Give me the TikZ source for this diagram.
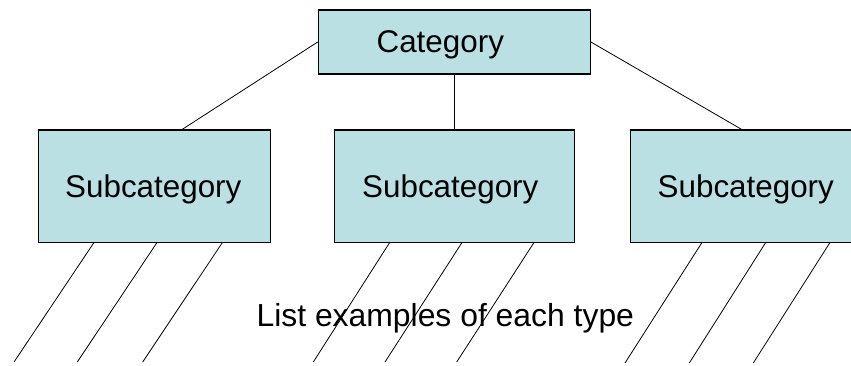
\documentclass[tikz,border=0pt]{standalone}
\usepackage{fontspec}
\setmainfont{Liberation Sans}
\definecolor{boxfill}{RGB}{187,224,227}
\begin{document}
\begin{tikzpicture}[x=1bp,y=-1bp,
  box/.style={draw=black, line width=1.2bp, fill=boxfill, inner sep=0pt,
    text depth=0pt, font=\fontsize{31.5}{36}\selectfont},
  conn/.style={draw=black, line width=0.8bp}]
\useasboundingbox (0,0) rectangle (851,365);
\clip (0,0) rectangle (851,365);
\node[box, minimum width=272bp, minimum height=64bp] (cat) at (454.3,42) {Category\kern28bp};
\node[box, minimum width=232bp, minimum height=112.3bp] (s1) at (154.3,186.2) {Subcategory\kern2bp};
\node[box, minimum width=240bp, minimum height=112.3bp] (s2) at (454.3,186.2) {Subcategory\kern8bp};
\node[box, minimum width=240bp, minimum height=112.3bp] (s3) at (750.3,186.2) {Subcategory\kern9bp};
\draw[conn] (cat.west) -- ([xshift=144.4bp]s1.north west);
\draw[conn] (cat.south) -- (s2.north);
\draw[conn] (cat.east) -- ([xshift=112bp]s3.north west);
\coordinate (e11) at (14,362);
\coordinate (e12) at (77.3,362);
\coordinate (e13) at (142.7,362);
\coordinate (e21) at (313.3,362);
\coordinate (e22) at (385,362);
\coordinate (e23) at (456.7,362);
\coordinate (e31) at (625,363);
\coordinate (e32) at (689.3,363);
\coordinate (e33) at (753.3,363);
\draw[conn] ([xshift=56bp]s1.south west) -- (e11);
\draw[conn] ([xshift=119bp]s1.south west) -- (e12);
\draw[conn] ([xshift=184.4bp]s1.south west) -- (e13);
\draw[conn] ([xshift=55.7bp]s2.south west) -- (e21);
\draw[conn] ([xshift=128bp]s2.south west) -- (e22);
\draw[conn] ([xshift=200bp]s2.south west) -- (e23);
\draw[conn] ([xshift=72bp]s3.south west) -- (e31);
\draw[conn] ([xshift=135.7bp]s3.south west) -- (e32);
\draw[conn] ([xshift=200bp]s3.south west) -- (e33);
\node[anchor=base, inner sep=0pt, font=\fontsize{32}{38}\selectfont] (lst) at (445.3,326) {List examples of each type};
\end{tikzpicture}
\end{document}
